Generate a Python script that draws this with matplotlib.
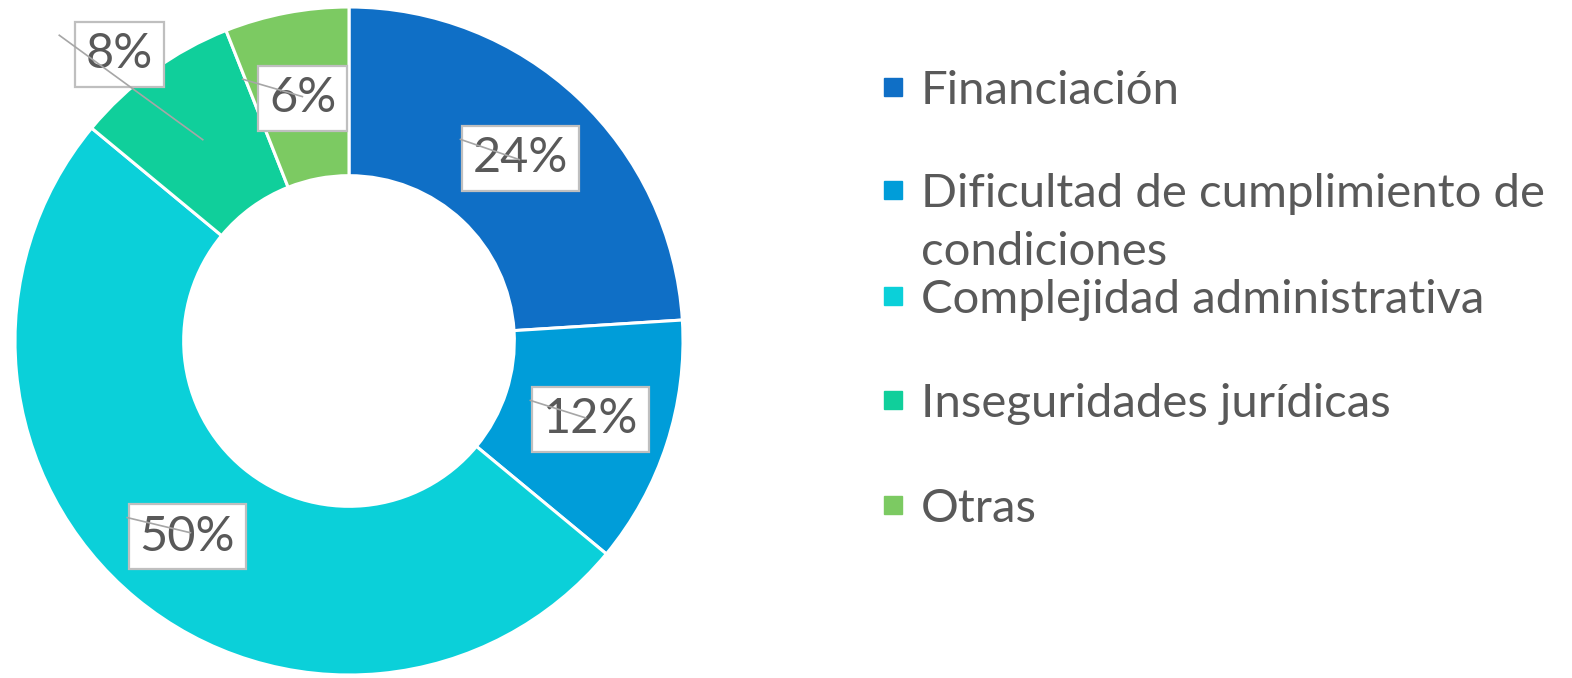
import numpy as np
import matplotlib.pyplot as plt
from matplotlib.patches import Rectangle

# data
categories = ["Financiación", "Dificultad de cumplimiento de\ncondiciones",
              "Complejidad administrativa", "Inseguridades jurídicas", "Otras"]
shares = [24, 12, 50, 8, 6]
colors = ["#0F6FC6", "#009DD9", "#0BD0D9", "#10CF9B", "#7CCA62"]
label_radius = [0.75, 0.76, 0.76, 1.10, 0.74]
label_shift = [0, 0, 0, 2.7, 0]  # degrees, the 8% label sits a bit off its slice

W, H = 1572, 678
cx, cy, R = 349, 341, 334
text_color = "#595959"
plt.rcParams['font.family'] = ['Lato', 'DejaVu Sans']

fig = plt.figure(figsize=(W / 100, H / 100), dpi=100)
ax = fig.add_axes([(cx - R) / W, (H - cy - R) / H, 2 * R / W, 2 * R / H])

wedges, _ = ax.pie(shares, colors=colors, startangle=90, counterclock=False,
                   radius=1, wedgeprops=dict(width=0.505, edgecolor='white', linewidth=2.2))
# pie() resets the limits, so set them afterwards
ax.set_xlim(-1, 1)
ax.set_ylim(-1, 1)
ax.set_aspect('equal')
ax.axis('off')

# percentage labels with leader lines
for w, val, lr, sh in zip(wedges, shares, label_radius, label_shift):
    mid = np.deg2rad((w.theta1 + w.theta2) / 2)
    lx, ly = lr * np.cos(mid + np.deg2rad(sh)), lr * np.sin(mid + np.deg2rad(sh))
    dx, dy = 0.745 * np.cos(mid), 0.745 * np.sin(mid)
    ax.text(lx, ly, f"{val}%", ha='center', va='center', fontsize=35, color=text_color,
            zorder=5,
            bbox=dict(boxstyle='square,pad=0.22', fc='white', ec='#BFBFBF', lw=1.6))
    sx, sy = lx - 60 / R, ly + 19 / R
    ax.plot([sx, dx], [sy, dy], color='#A6A6A6', lw=1.2, zorder=6)

# legend
row_y = [87, 190, 296, 400, 505]
for cat, col, y in zip(categories, colors, row_y):
    lines = cat.split("\n")
    fig.patches.append(Rectangle((884 / W, 1 - (y + 9) / H), 18 / W, 18 / H,
                                 transform=fig.transFigure, color=col))
    for k, line in enumerate(lines):
        fig.text(921 / W, 1 - (y + 58 * k) / H, line, ha='left', va='center_baseline',
                 fontsize=34, color=text_color)

fig.savefig("out.png", dpi=100)
